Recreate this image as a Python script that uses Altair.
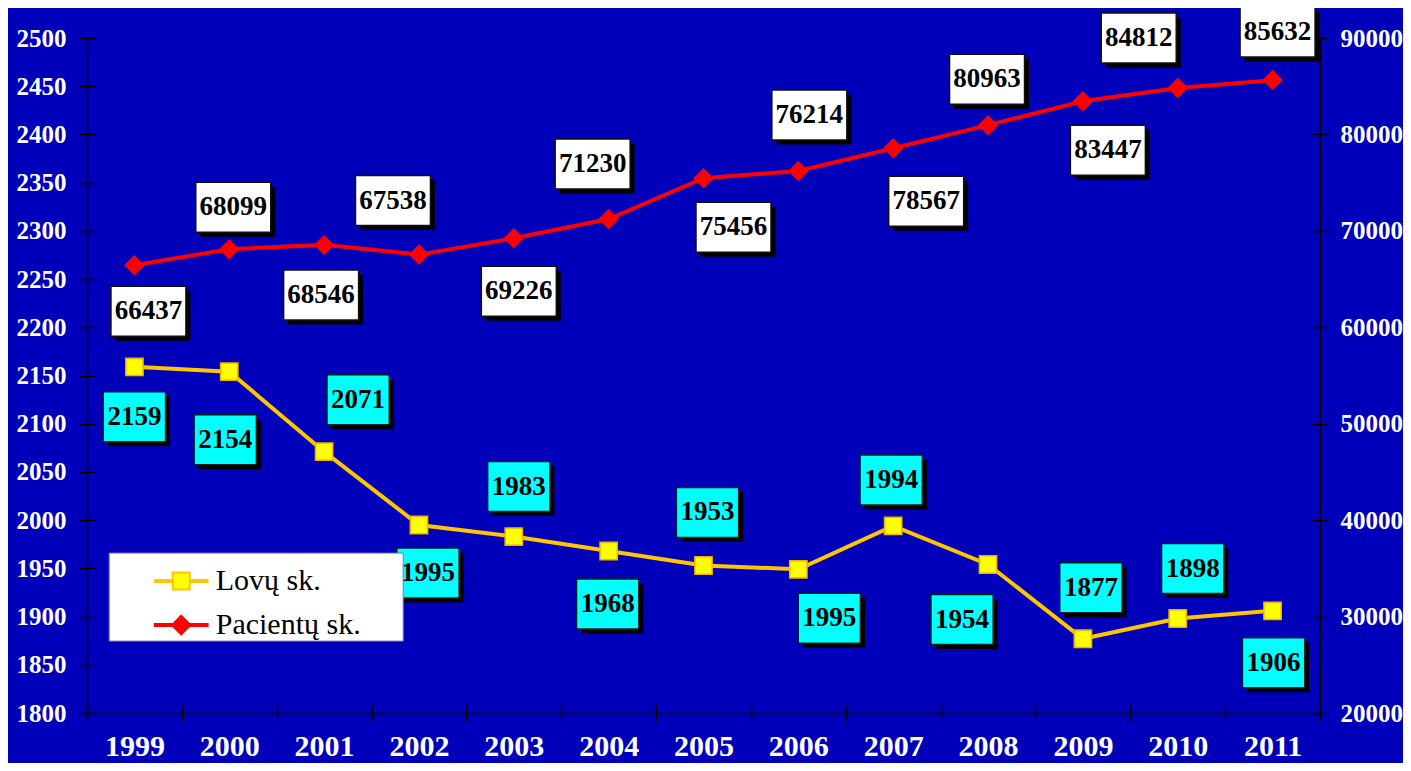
import altair as alt
import pandas as pd

# ---- data ----
years = [1999, 2000, 2001, 2002, 2003, 2004, 2005, 2006, 2007, 2008, 2009, 2010, 2011]
beds = [2159, 2154, 2071, 1995, 1983, 1968, 1953, 1949, 1994, 1954, 1877, 1898, 1906]
bed_labels = ["2159", "2154", "2071", "1995", "1983", "1968", "1953", "1995",
              "1994", "1954", "1877", "1898", "1906"]
patients = [66437, 68099, 68546, 67538, 69226, 71230, 75456, 76214, 78567,
            80963, 83447, 84812, 85632]
patient_labels = ["66437", "68099", "68546", "67538", "69226", "71230", "75456",
                  "76214", "78567", "80963", "83447", "84812", "85632"]
series_names = ["Lovų sk.", "Pacientų sk."]

# ---- label box offsets from their point (pixels, right / down) ----
bed_dx = [0, -4, 34, 9, 5, -1, 4, 31, -2, -26, 8, 15, 1]
bed_dy = [50, 68, -52, 48, -50, 53, -53, 49, -46, 55, -51, -50, 52]
pat_dx = [14, 4, -3, -26, 5, -16, 30, 11, 33, -1, 25, -39, 5]
pat_dy = [46, -42, 50, -54, 53, -55, 49, -56, 53, -46, 49, -50, -48]

# ---- layout / style ----
W, H = 1233, 675
BG = "#0000BB"
FONT = "Liberation Serif"
PX_YEAR = W / 13.0
PX_BED = H / 700.0
PX_PAT = H / 70000.0

df = pd.DataFrame({
    "year": years, "beds": beds, "bed_label": bed_labels,
    "patients": patients, "pat_label": patient_labels,
    "bdx": bed_dx, "bdy": bed_dy, "pdx": pat_dx, "pdy": pat_dy,
})

tick_style = dict(tickColor="black", tickWidth=1.5, tickSize=8, grid=False, title=None)
x_vals = [1998.5 + i for i in range(14)]
bed_vals = list(range(1800, 2501, 50))
pat_vals = list(range(20000, 90001, 10000))

xscale = alt.Scale(domain=[1998.5, 2011.5], nice=False, zero=False)
xaxis = alt.Axis(
    orient="bottom", values=x_vals,
    labelExpr="datum.value < 2011 ? '' + (datum.value + 0.5) : ''",
    labelOffset=PX_YEAR / 2, labelFlush=False, labelOverlap=False,
    labelFont=FONT, labelFontSize=30, labelFontWeight="bold", labelColor="white",
    labelPadding=10, labelBaseline="top",
    domainColor="black", domainWidth=1.5, **tick_style,
)
xaxis_in = alt.Axis(orient="bottom", values=x_vals, labels=False, domain=False,
                    offset=-8, **tick_style)

bscale = alt.Scale(domain=[1800, 2500], nice=False, zero=False)
baxis = alt.Axis(
    orient="left", values=bed_vals, format="d",
    labelFont=FONT, labelFontSize=25, labelFontWeight="bold", labelColor="white",
    labelPadding=13, labelFlush=False, labelOverlap=False,
    domainColor="black", domainWidth=1.5, **tick_style,
)
baxis_in = alt.Axis(orient="left", values=bed_vals, labels=False, domain=False,
                    offset=-8, **tick_style)
pscale = alt.Scale(domain=[20000, 90000], nice=False, zero=False)
paxis = alt.Axis(
    orient="right", values=pat_vals, format="d",
    labelFont=FONT, labelFontSize=25, labelFontWeight="bold", labelColor="white",
    labelPadding=12, labelFlush=False, labelOverlap=False,
    domainColor="black", domainWidth=1.5, **tick_style,
)
paxis_in = alt.Axis(orient="right", values=pat_vals, labels=False, domain=False,
                    offset=-8, **tick_style)

base = alt.Chart(df)

# ---------- beds (left axis) ----------
bx = alt.X("year:Q", scale=xscale, axis=xaxis)
by = alt.Y("beds:Q", scale=bscale, axis=baxis)
bed_line = base.mark_line(color="#FFC600", strokeWidth=4).encode(x=bx, y=by)
bed_pts = base.mark_point(shape="square", size=300, filled=True, fill="#FFFF00",
                          stroke="#F0B000", strokeWidth=1.5, opacity=1).encode(
    x=bx, y=alt.Y("beds:Q", scale=bscale, axis=baxis_in))

bed_lab = base.transform_calculate(
    lx=f"datum.year + datum.bdx / {PX_YEAR}",
    ly=f"datum.beds - datum.bdy / {PX_BED}",
)
blx = alt.X("lx:Q", scale=xscale, axis=xaxis)
bly = alt.Y("ly:Q", scale=bscale, axis=None)
cyan_box = "M-1,-0.8026L1,-0.8026L1,0.8026L-1,0.8026Z"
bed_shadow = bed_lab.mark_point(shape=cyan_box, size=3881, filled=True, fill="black",
                                strokeWidth=0, opacity=1, xOffset=4.5, yOffset=4.5
                                ).encode(x=blx, y=bly)
bed_box = bed_lab.mark_point(shape=cyan_box, size=3881, filled=True, fill="#00FFFF",
                             stroke="#002020", strokeWidth=1.5, opacity=1
                             ).encode(x=blx, y=bly)
bed_text = bed_lab.mark_text(font=FONT, fontSize=27, fontWeight="bold", color="black",
                             align="center", baseline="middle"
                             ).encode(x=blx, y=bly, text="bed_label:N")
beds_layer = alt.layer(bed_line, bed_pts, bed_shadow, bed_box, bed_text).resolve_axis(
    y="independent")

# ---------- patients (right axis) ----------
px_ = alt.X("year:Q", scale=xscale, axis=xaxis_in)
py_ = alt.Y("patients:Q", scale=pscale, axis=paxis)
pat_line = base.mark_line(color="#FF0000", strokeWidth=4).encode(x=px_, y=py_)
pat_pts = base.mark_point(shape="diamond", size=420, filled=True, fill="#FF0000",
                          strokeWidth=0, opacity=1).encode(
    x=px_, y=alt.Y("patients:Q", scale=pscale, axis=paxis_in))
pat_lab = base.transform_calculate(
    lx=f"datum.year + datum.pdx / {PX_YEAR}",
    ly=f"datum.patients - datum.pdy / {PX_PAT}",
)
plx = alt.X("lx:Q", scale=xscale, axis=xaxis_in)
ply = alt.Y("ly:Q", scale=pscale, axis=None)
white_box = "M-1,-0.6667L1,-0.6667L1,0.6667L-1,0.6667Z"
pat_shadow = pat_lab.mark_point(shape=white_box, size=5625, filled=True, fill="black",
                                strokeWidth=0, opacity=1, xOffset=4.5, yOffset=4.5
                                ).encode(x=plx, y=ply)
pat_box = pat_lab.mark_point(shape=white_box, size=5625, filled=True, fill="white",
                             stroke="#101010", strokeWidth=1.5, opacity=1
                             ).encode(x=plx, y=ply)
pat_text = pat_lab.mark_text(font=FONT, fontSize=27, fontWeight="bold", color="black",
                             align="center", baseline="middle"
                             ).encode(x=plx, y=ply, text="pat_label:N")
pats_layer = alt.layer(pat_line, pat_pts, pat_shadow, pat_box, pat_text).resolve_axis(
    y="independent")

# ---------- legend (invisible marks, real legend) ----------
leg_sq = ("M-0.96,-0.036L-0.31,-0.036L-0.31,-0.31L0.31,-0.31L0.31,-0.036L0.96,-0.036"
          "L0.96,0.036L0.31,0.036L0.31,0.31L-0.31,0.31L-0.31,0.036L-0.96,0.036Z")
leg_dm = ("M-0.96,-0.036L-0.3,-0.036L0,-0.34L0.3,-0.036L0.96,-0.036"
          "L0.96,0.036L0.3,0.036L0,0.34L-0.3,0.036L-0.96,0.036Z")
legend = alt.Legend(
    orient="none", legendX=21.7, legendY=514.6,
    title="\u2800\u2800\u2800", titleOrient="right", titleFont=FONT, titleFontSize=19,
    titlePadding=0, titleColor="white", titleOpacity=0,
    fillColor="white", strokeColor="#7878B8", padding=0,
    symbolOffset=44, symbolSize=3025, symbolStrokeWidth=2, labelOffset=6,
    symbolFillColor="white", symbolStrokeColor="white",
    labelFont=FONT, labelFontSize=30, labelColor="black", labelLimit=500,
    rowPadding=0,
)
leg_df = pd.DataFrame({"series": series_names})
legend_layer = alt.Chart(leg_df).mark_point(filled=True, opacity=0).encode(
    fill=alt.Fill("series:N", scale=alt.Scale(domain=series_names,
                                              range=["#FFFF00", "#FF0000"]), legend=legend),
    stroke=alt.Stroke("series:N", scale=alt.Scale(domain=series_names,
                                                  range=["#FFC600", "#FF0000"]), legend=legend),
    shape=alt.Shape("series:N", scale=alt.Scale(domain=series_names,
                                                range=[leg_sq, leg_dm]), legend=legend),
)

chart = alt.layer(beds_layer, pats_layer, legend_layer).resolve_scale(
    y="independent"
).resolve_axis(
    x="independent"
).properties(
    width=W, height=H, background=BG,
    autosize=alt.AutoSizeParams(type="none"),
    padding={"left": 79, "top": 30, "right": 83, "bottom": 50},
).configure_view(stroke=None)

chart.save("out.html", embed_options={"renderer": "svg", "actions": False})
